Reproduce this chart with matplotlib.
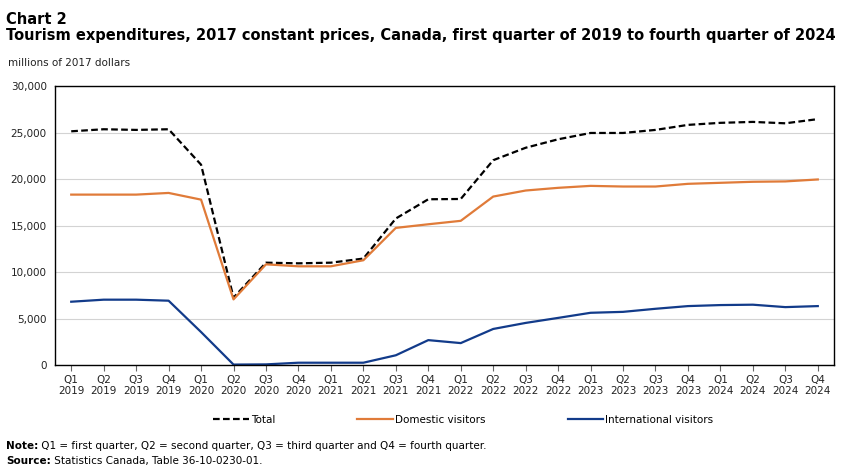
import matplotlib
matplotlib.use("Agg")
import matplotlib.pyplot as plt
from matplotlib.ticker import FuncFormatter
from matplotlib.transforms import offset_copy

quarters = ["Q1", "Q2", "Q3", "Q4"]
years = [2019, 2020, 2021, 2022, 2023, 2024]
labels = [f"{q}\n{y}" for y in years for q in quarters]

total = [25140, 25360, 25290, 25360, 21550, 7250, 11010, 10940, 11010, 11450, 15760, 17830,
         17860, 22030, 23370, 24280, 24960, 24960, 25290, 25830, 26050, 26150, 26000, 26450]
domestic = [18330, 18330, 18330, 18510, 17790, 7060, 10830, 10620, 10620, 11270, 14750, 15140,
            15510, 18120, 18770, 19060, 19270, 19200, 19200, 19490, 19600, 19710, 19750, 19960]
international = [6810, 7030, 7030, 6920, 3550, 50, 70, 250, 250, 250, 1050, 2680,
                 2360, 3880, 4530, 5070, 5620, 5720, 6050, 6340, 6450, 6490, 6230, 6340]

plt.rcParams['font.family'] = ['DejaVu Sans']
fig = plt.figure(figsize=(8.5, 4.68), dpi=100)
ax = fig.add_axes([0.0647, 0.22, 0.9165, 0.596])

x = list(range(len(labels)))
ax.plot(x, total, color='black', lw=1.6, ls=(0, (3, 1.5)), label='Total')
ax.plot(x, domestic, color='#E07B39', lw=1.6, label='Domestic visitors')
ax.plot(x, international, color='#123B8A', lw=1.6, label='International visitors')

ax.set_ylim(0, 30000)
ax.set_xlim(-0.5, len(labels) - 0.5)
ax.set_yticks(range(0, 30001, 5000))
ax.yaxis.set_major_formatter(FuncFormatter(lambda v, p: f"{int(v):,}"))
ax.set_xticks(x)
ax.set_xticklabels(labels, fontsize=7.5, color='#222222', linespacing=1.1)
ax.tick_params(axis='y', length=0, labelsize=7.5, labelcolor='#222222', pad=6)
ax.tick_params(axis='x', length=4, color='#666666', pad=3)
ax.grid(axis='y', color='#d3d3d3', lw=0.8)
ax.set_axisbelow(True)
for s in ax.spines.values():
    s.set_color('black')
    s.set_linewidth(1.0)

fig.legend(loc='center', bbox_to_anchor=(0.545, 0.103), ncol=3, frameon=False,
           fontsize=7.5, handlelength=3.4, handletextpad=0.2, columnspacing=7.9)

fig.text(0.007, 0.975, "Chart 2", fontsize=10.5, fontweight='bold',
         family=['Liberation Sans Narrow', 'DejaVu Sans'], va='top')
fig.text(0.007, 0.94, "Tourism expenditures, 2017 constant prices, Canada, first quarter of 2019 to fourth quarter of 2024",
         fontsize=10.5, fontweight='bold', family=['Liberation Sans Narrow', 'DejaVu Sans'], va='top')
fig.text(0.009, 0.866, "millions of 2017 dollars", fontsize=7.5, color='#222222', va='center')

# note and source lines: bold lead-in, then plain text right after it
renderer = fig.canvas.get_renderer()
for yy, head, rest in [(0.047, "Note:", " Q1 = first quarter, Q2 = second quarter, Q3 = third quarter and Q4 = fourth quarter."),
                       (0.015, "Source:", " Statistics Canada, Table 36-10-0230-01.")]:
    t = fig.text(0.007, yy, head, fontsize=7.5, fontweight='bold', va='center')
    w = t.get_window_extent(renderer).width
    fig.text(0.007, yy, rest, fontsize=7.5, va='center',
             transform=offset_copy(fig.transFigure, fig=fig, x=w, y=0, units='dots'))

fig.savefig("out.png", dpi=100)
